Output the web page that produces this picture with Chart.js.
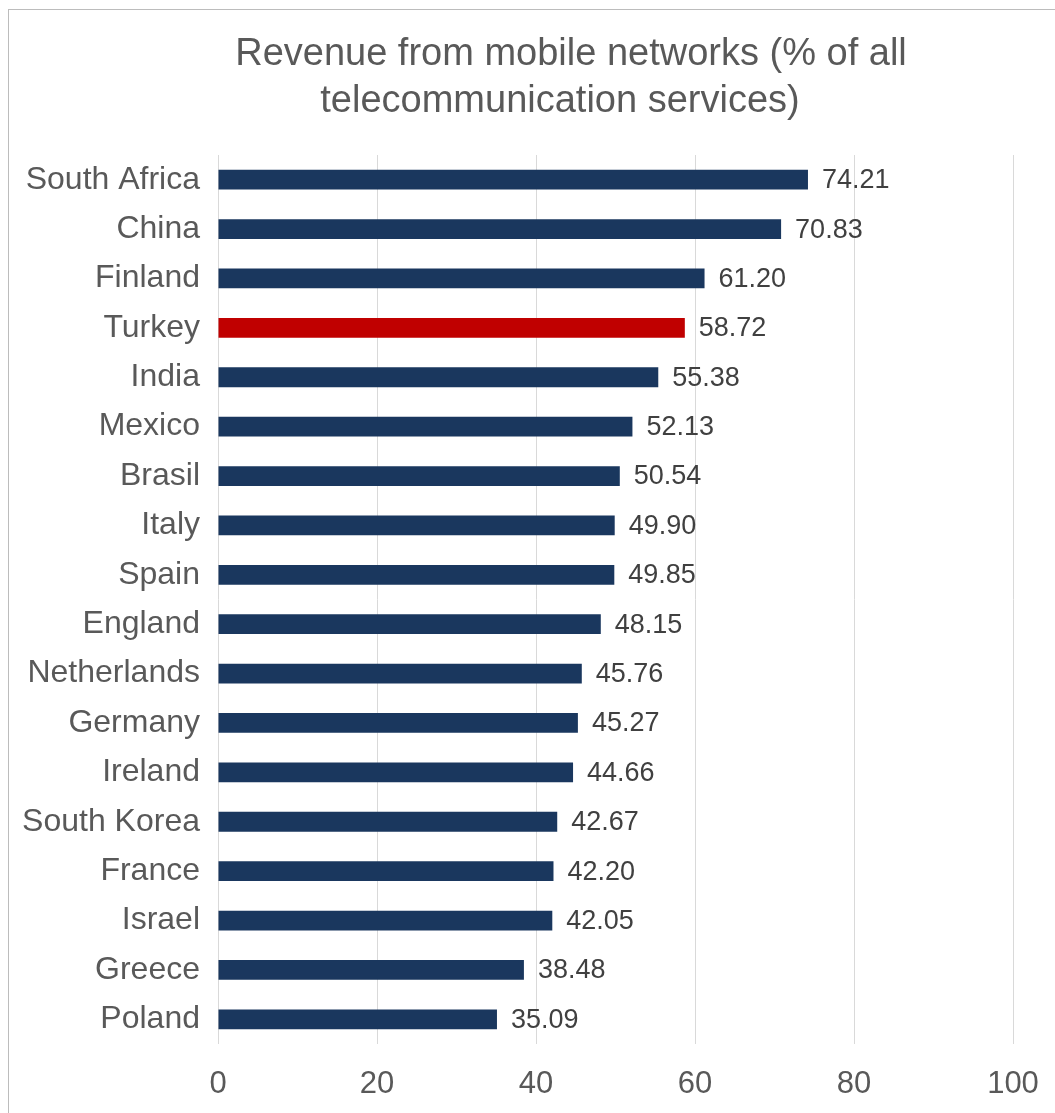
<!DOCTYPE html>
<html>
<head>
<meta charset="utf-8">
<script src="https://cdn.jsdelivr.net/npm/chart.js@4/dist/chart.umd.min.js"></script>
<style>
  html, body { margin: 0; padding: 0; background: #ffffff; overflow: hidden; }
  #frame { position: absolute; left: 8px; top: 9px; width: 1112px; height: 1110px; border: 1px solid #bcbcbc; background: #fff; }
  #c { display: block; }
</style>
</head>
<body>
<div id="frame"><canvas id="c" width="1112" height="1110"></canvas></div>
<script>
const TITLE_LINES = ["Revenue from mobile networks (% of all", "telecommunication services)"];
const countries = ["South Africa", "China", "Finland", "Turkey", "India", "Mexico", "Brasil", "Italy", "Spain", "England", "Netherlands", "Germany", "Ireland", "South Korea", "France", "Israel", "Greece", "Poland"];
const revenueShare = [74.21, 70.83, 61.20, 58.72, 55.38, 52.13, 50.54, 49.90, 49.85, 48.15, 45.76, 45.27, 44.66, 42.67, 42.20, 42.05, 38.48, 35.09];
const highlighted = ["Turkey"];
const xTicks = [0, 20, 40, 60, 80, 100];

const NAVY = "#1a375e";
const RED = "#c00000";
const TEXT = "#595959";
const FONT = "'Liberation Sans', Arial, sans-serif";

const barColors = countries.map(c => highlighted.includes(c) ? RED : NAVY);

const titlePlugin = {
  id: 'customTitle',
  afterDraw(chart) {
    const ctx = chart.ctx;
    ctx.save();
    ctx.font = "38px " + FONT;
    ctx.fillStyle = TEXT;
    ctx.textAlign = "center";
    ctx.textBaseline = "alphabetic";
    const centers = [562, 551];
    TITLE_LINES.forEach((line, i) => ctx.fillText(line, centers[i], 55 + i * 47));
    ctx.restore();
  }
};

const valueLabels = {
  id: 'valueLabels',
  afterDatasetsDraw(chart) {
    const ctx = chart.ctx;
    const meta = chart.getDatasetMeta(0);
    ctx.save();
    ctx.font = "27px " + FONT;
    ctx.fillStyle = "#404040";
    ctx.textAlign = "left";
    ctx.textBaseline = "middle";
    meta.data.forEach((bar, i) => {
      ctx.fillText(revenueShare[i].toFixed(2), bar.x + 14, bar.y + 1);
    });
    ctx.restore();
  }
};

new Chart(document.getElementById('c'), {
  type: 'bar',
  data: {
    labels: countries,
    datasets: [{
      data: revenueShare,
      backgroundColor: barColors,
      borderWidth: 0,
      categoryPercentage: 0.8,
      barPercentage: 0.5
    }]
  },
  options: {
    indexAxis: 'y',
    responsive: false,
    animation: false,
    events: [],
    layout: { padding: { top: 145, left: 0, right: 108, bottom: 16 } },
    plugins: { legend: { display: false }, title: { display: false }, tooltip: { enabled: false } },
    scales: {
      x: {
        min: 0, max: 100,
        afterBuildTicks: s => { s.ticks = xTicks.map(v => ({ value: v })); },
        afterFit: s => { s.height = 60; },
        grid: { color: "#d9d9d9", lineWidth: 1, drawTicks: false },
        border: { display: false },
        ticks: { color: TEXT, font: { family: FONT, size: 31 }, padding: 22, maxRotation: 0 }
      },
      y: {
        afterFit: s => { s.width = 209; },
        grid: { display: false, drawTicks: false },
        border: { display: false },
        ticks: { color: TEXT, font: { family: FONT, size: 32 }, padding: 18, autoSkip: false }
      }
    }
  },
  plugins: [titlePlugin, valueLabels]
});
</script>
</body>
</html>
